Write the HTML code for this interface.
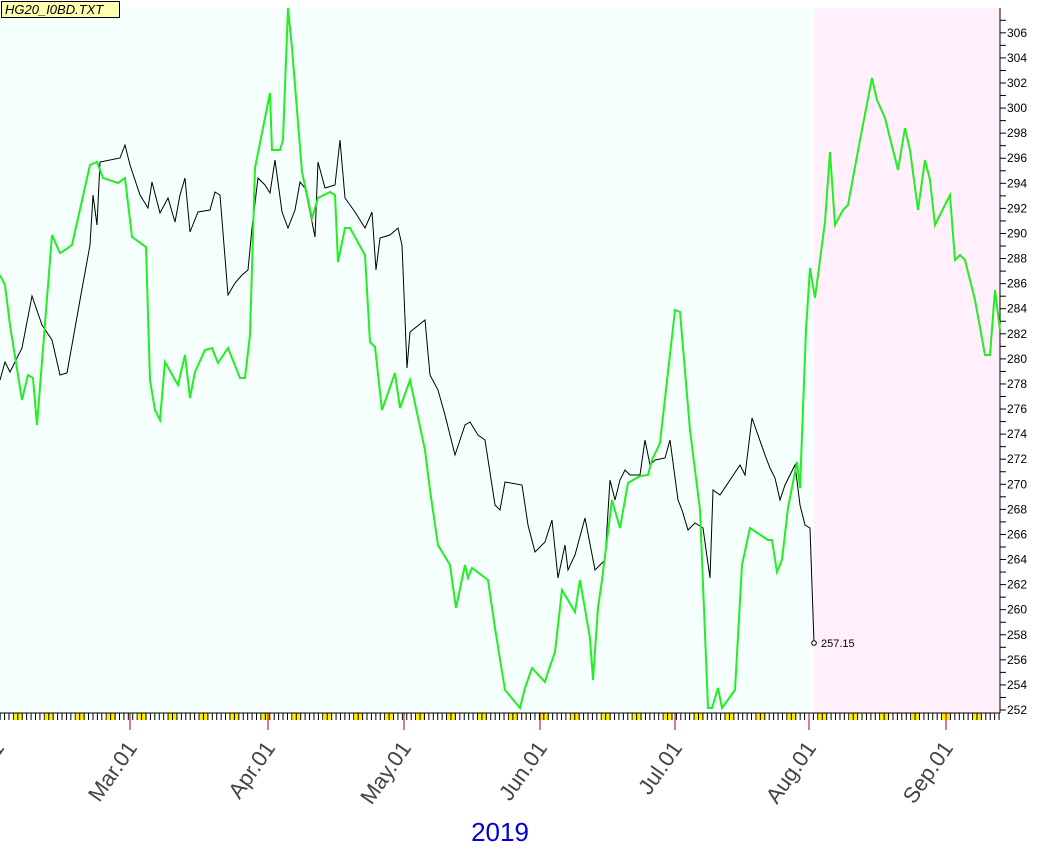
<!DOCTYPE html>
<html><head><meta charset="utf-8"><style>
body{margin:0;background:#fff;}
svg{display:block;font-family:"Liberation Sans",sans-serif;}
</style></head><body>
<svg id="s" width="1063" height="849" xmlns="http://www.w3.org/2000/svg">
<rect x="0" y="8" width="814" height="705" fill="#f5fffd"/>
<rect x="814" y="8" width="186" height="705" fill="#fff0fb"/>
<g id="ticks"></g>
<line x1="1000" y1="8" x2="1000" y2="713" stroke="#000"/>
<line x1="0" y1="713" x2="1000" y2="713" stroke="#000"/>
<polyline fill="none" stroke="#000" stroke-width="1" points="0,380 5,362 10,372 22,348 32,296 42,325 52,340 60,375 67,373 80,300 90,245 93,195 97,225 100,162 120,158 125,145 130,165 140,195 148,208 152,182 160,213 168,198 175,222 180,195 185,178 190,232 198,212 210,210 215,192 220,195 228,295 235,283 242,275 248,270 252,228 258,178 265,185 270,193 275,160 282,212 288,228 295,210 300,182 305,188 310,212 315,237 318,162 325,188 335,185 340,140 345,198 355,212 365,228 372,212 376,270 380,238 390,235 398,228 402,245 407,368 410,332 425,320 430,375 438,390 445,415 455,455 465,425 470,422 478,435 485,440 495,505 500,510 505,482 522,485 528,525 535,552 545,542 552,520 558,578 565,545 568,570 575,555 585,518 595,570 605,560 610,480 615,500 620,480 625,470 630,475 640,475 645,440 650,465 655,460 665,458 670,440 678,500 682,510 688,530 695,523 703,528 710,578 713,490 720,495 740,465 745,475 752,418 765,455 770,468 775,478 780,500 785,485 795,465 800,505 805,525 810,528 814,643"/>
<circle cx="814" cy="643" r="2.3" fill="#fff" stroke="#000"/>
<text x="821" y="647" font-size="11" fill="#000">257.15</text>
<polyline fill="none" stroke="#22ee22" stroke-width="2" points="0,275 5,285 10,325 22,400 28,375 33,378 37,425 52,235 60,253 65,250 72,245 90,165 97,162 103,178 118,183 125,178 132,237 146,247 150,380 155,410 160,420 165,362 178,385 185,355 190,398 195,372 205,350 212,348 218,363 228,348 240,378 245,378 250,335 255,168 270,93 272,150 280,150 283,140 288,8 292,48 302,172 312,218 318,198 330,192 335,195 338,262 345,228 350,228 365,255 370,342 375,347 382,410 395,373 400,408 410,380 425,450 430,490 438,545 450,565 456,608 465,565 468,578 472,568 488,580 495,628 505,690 520,708 525,688 532,668 545,682 548,672 555,652 562,590 575,612 580,580 590,638 593,680 598,608 602,580 612,500 620,528 628,483 640,476 648,475 652,460 660,443 675,310 680,312 690,430 700,510 708,708 712,708 718,688 722,708 735,690 742,565 750,528 768,540 772,540 777,572 782,560 788,508 797,462 800,488 806,330 810,268 815,298 825,222 830,152 835,225 843,210 848,205 860,140 872,78 877,100 885,118 898,170 905,128 910,150 918,210 925,160 930,180 935,225 945,205 950,195 955,260 960,255 965,260 975,300 985,355 990,355 995,290 1000,330"/>
<g id="yax" font-size="12" fill="#000"></g>
<g id="xl" font-size="22" fill="#444"></g>
<rect x="1.5" y="1.5" width="118" height="16" fill="#ffffb0" stroke="#000"/>
<text x="5" y="14" font-size="13" font-style="italic" fill="#000">HG20_I0BD.TXT</text>
<text x="500" y="841" font-size="26" fill="#0000dd" text-anchor="middle">2019</text>
</svg>
<script>
var ns="http://www.w3.org/2000/svg";
function el(p,t,a,txt){var e=document.createElementNS(ns,t);for(var k in a)e.setAttribute(k,a[k]);if(txt)e.textContent=txt;p.appendChild(e);return e;}
var tk=document.getElementById('ticks'),ya=document.getElementById('yax'),xl=document.getElementById('xl');
var d=4.42;
for(var i=-190;i<45;i++){var x=809+i*d;if(x<0||x>1000)continue;
 if(((i%7)+7)%7==3) el(tk,'rect',{x:x-4,y:713,width:9,height:7,fill:'#ffee00'});
 el(tk,'line',{x1:x,y1:713,x2:x,y2:720,stroke:'#000'});}
var months=[[-3,"Feb.01"],[130,"Mar.01"],[268,"Apr.01"],[404,"May.01"],[540,"Jun.01"],[675,"Jul.01"],[809,"Aug.01"],[946,"Sep.01"]];
months.forEach(function(m){var x=m[0];el(tk,'line',{x1:x,y1:713,x2:x,y2:730,stroke:'#b00000'});
 var tx=x+8,ty=748;
 el(xl,'text',{x:tx,y:ty,'text-anchor':'end',transform:'rotate(-55 '+tx+' '+ty+')'},m[1]);});
for(var v=252;v<=307;v++){var y=710-(v-252)*12.54;
 el(ya,'line',{x1:1000,y1:y,x2:1006,y2:y,stroke:'#000'});
 if(v%2==0) el(ya,'text',{x:1007,y:y+4},String(v));}
</script>
</body></html>
